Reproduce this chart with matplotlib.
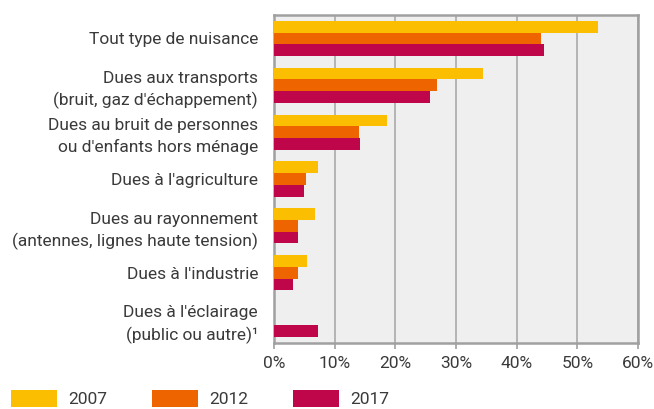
import matplotlib
matplotlib.use('Agg')
import matplotlib.pyplot as plt
import numpy as np

plt.rcParams['font.family'] = ['Roboto', 'DejaVu Sans']

categories = [
    "Tout type de nuisance",
    "Dues aux transports\n(bruit, gaz d'échappement)",
    "Dues au bruit de personnes\nou d'enfants hors ménage",
    "Dues à l'agriculture",
    "Dues au rayonnement\n(antennes, lignes haute tension)",
    "Dues à l'industrie",
    "Dues à l'éclairage\n(public ou autre)¹",
]
years = ["2007", "2012", "2017"]
v2007 = [53.4, 34.4, 18.6, 7.3, 6.7, 5.4, np.nan]
v2012 = [44.0, 26.9, 14.0, 5.2, 4.0, 4.0, np.nan]
v2017 = [44.5, 25.7, 14.1, 5.0, 3.9, 3.2, 7.2]
colors = ["#FBBE00", "#EE6500", "#C0064A"]

fig = plt.figure(figsize=(6.54, 4.09), dpi=100)
ax = fig.add_axes([274 / 654, 1 - 343 / 409, 364 / 654, 328 / 409])
ax.set_facecolor("#EFEFEF")

y = np.arange(len(categories))
h = 0.25
for i, (vals, c, lab) in enumerate(zip([v2007, v2012, v2017], colors, years)):
    ax.barh(y + (i - 1) * h, vals, height=h, color=c, label=lab, zorder=3)

ax.set_xlim(0, 60)
ax.set_ylim(6.5, -0.5)
ax.set_xticks(np.arange(0, 61, 10))
ax.set_xticklabels([f"{t}%" for t in range(0, 61, 10)])
ax.set_yticks(y)
ax.set_yticklabels(categories, linespacing=1.45)
ax.xaxis.grid(True, color="#AAAAAA", lw=1.2, zorder=1)
for s in ax.spines.values():
    s.set_color("#A0A0A0")
    s.set_linewidth(1.8)
ax.tick_params(axis="y", length=0, pad=11.5, labelsize=12.5, labelcolor="#3a3a3a")
ax.tick_params(axis="x", length=4, width=1.2, color="#A0A0A0", pad=5,
               labelsize=12.5, labelcolor="#3a3a3a")

fig.legend(loc="upper left", bbox_to_anchor=(11 / 654, 1 - 390 / 409), ncol=3,
           frameon=False, borderpad=0, borderaxespad=0, handlelength=2.65,
           handleheight=1.15, handletextpad=0.63, columnspacing=2.6,
           prop={"size": 12.5}, labelcolor="#3a3a3a")

plt.savefig("out.png")
plt.close()
